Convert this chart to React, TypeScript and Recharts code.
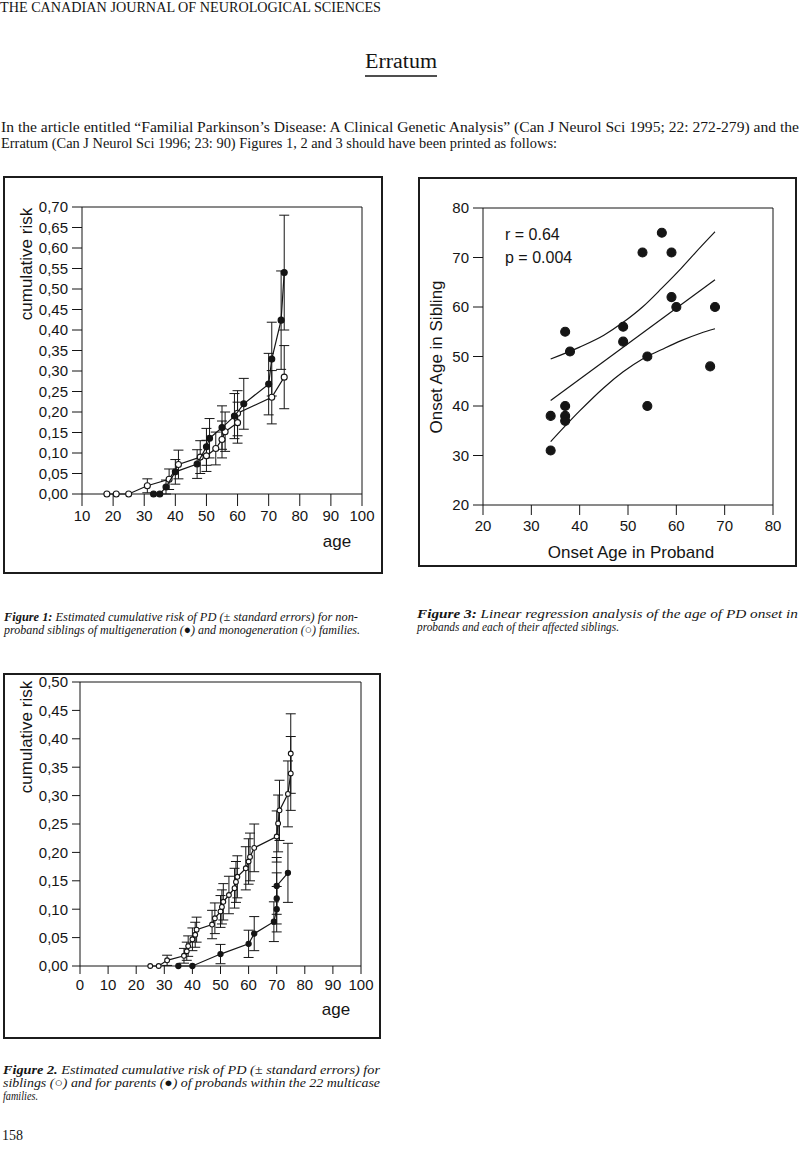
import React from "react";
import {
  ScatterChart,
  ComposedChart,
  Scatter,
  Line,
  XAxis,
  YAxis,
  ErrorBar,
  ReferenceLine,
  Customized,
} from "recharts";

// ---- Figure 1: multigeneration (filled) vs monogeneration (open) ----
const fig1AgeTicks = [10, 20, 30, 40, 50, 60, 70, 80, 90, 100];
const fig1RiskTicks = [0, 0.05, 0.1, 0.15, 0.2, 0.25, 0.3, 0.35, 0.4, 0.45, 0.5, 0.55, 0.6, 0.65, 0.7];

const multiAge = [33, 35, 37, 40, 47, 50, 51, 55, 59, 62, 70, 71, 74, 75];
const multiRisk = [0, 0, 0.017, 0.054, 0.073, 0.115, 0.136, 0.162, 0.19, 0.22, 0.268, 0.329, 0.424, 0.54];
const multiSE = [null, null, 0.017, 0.03, 0.035, 0.045, 0.048, 0.053, 0.055, 0.062, 0.075, 0.09, 0.12, 0.14];

const monoAge = [18, 21, 25, 31, 38, 41, 48, 50, 53, 55, 56, 60, 60, 71, 75];
const monoRisk = [0, 0, 0, 0.02, 0.036, 0.072, 0.09, 0.093, 0.111, 0.133, 0.152, 0.174, 0.197, 0.236, 0.285];
const monoSE = [null, null, null, 0.017, 0.025, 0.035, 0.04, 0.038, 0.04, 0.045, 0.048, 0.05, 0.055, 0.065, 0.077];

// ---- Figure 2: siblings (open) vs parents (filled) ----
const fig2AgeTicks = [0, 10, 20, 30, 40, 50, 60, 70, 80, 90, 100];
const fig2RiskTicks = [0, 0.05, 0.1, 0.15, 0.2, 0.25, 0.3, 0.35, 0.4, 0.45, 0.5];

const sibAge = [25, 28, 31, 37, 38, 38.5, 40, 41, 41.5, 47, 48, 50, 50.5, 51, 53, 55, 55.5, 56, 59, 60, 60.5, 62, 70, 70.5, 71, 74, 75, 75];
const sibRisk = [0, 0, 0.01, 0.018, 0.026, 0.035, 0.047, 0.055, 0.064, 0.073, 0.084, 0.096, 0.104, 0.113, 0.125, 0.137, 0.148, 0.157, 0.172, 0.184, 0.192, 0.208, 0.228, 0.251, 0.274, 0.303, 0.339, 0.374];
const sibSE = [null, null, 0.009, 0.013, 0.016, 0.018, 0.02, 0.022, 0.022, 0.025, 0.027, 0.028, 0.03, 0.032, 0.033, 0.035, 0.036, 0.037, 0.038, 0.04, 0.042, 0.042, 0.045, 0.05, 0.053, 0.058, 0.065, 0.07];

const parAge = [35, 40, 50, 60, 62, 69, 70, 70, 70, 74];
const parRisk = [0, 0, 0.021, 0.039, 0.057, 0.078, 0.1, 0.119, 0.141, 0.164];
const parSE = [null, null, 0.017, 0.024, 0.03, 0.035, 0.04, 0.045, 0.05, 0.052];

// ---- Figure 3: onset age proband vs sibling ----
const fig3Ticks = [20, 30, 40, 50, 60, 70, 80];
const probandAge = [34, 34, 37, 37, 37, 37, 38, 49, 49, 53, 54, 54, 57, 59, 59, 60, 67, 68];
const siblingAge = [38, 31, 40, 38, 37, 55, 51, 56, 53, 71, 50, 40, 75, 71, 62, 60, 48, 60];
const fitX = [34, 68];
const fitY = [41.1, 65.5];
const bandX = [34, 40, 45, 49, 53, 57, 61, 65, 68];
const upperY = [49.5, 51.9, 54.3, 56.9, 60.0, 63.8, 67.8, 72.1, 75.2];
const lowerY = [32.8, 39.0, 43.7, 46.9, 49.5, 51.4, 53.2, 54.7, 55.6];

const INK = "#151515";
const sans = "'Liberation Sans', Arial, sans-serif";
const serif = "'Liberation Serif', 'Times New Roman', serif";
const tickStyle = { fill: INK, fontSize: 15, fontFamily: sans };
const comma = (v: number) => v.toFixed(2).replace(".", ",");

const zip = (xs: number[], ys: number[], es?: (number | null)[]) =>
  xs.map((x, i) => ({ x, y: ys[i], se: es ? es[i] : null }));

const multiData = zip(multiAge, multiRisk, multiSE);
const monoData = zip(monoAge, monoRisk, monoSE);
const sibData = zip(sibAge, sibRisk, sibSE);
const parData = zip(parAge, parRisk, parSE);
const pointData = zip(probandAge, siblingAge);
const fitData = zip(fitX, fitY);
const upperData = zip(bandX, upperY);
const lowerData = zip(bandX, lowerY);

const dot = (r: number, filled: boolean) => (p: any) =>
  <circle cx={p.cx} cy={p.cy} r={r} fill={filled ? INK : "#fff"} stroke={INK} strokeWidth={1.1} />;

const frame = (left: number, top: number, width: number, height: number): React.CSSProperties => ({
  position: "absolute", left, top, width, height, border: "2px solid #1c1c1c", boxSizing: "border-box",
});

function Figure1() {
  return (
    <ScatterChart width={380} height={398} margin={{ top: 31, right: 21, bottom: 50, left: 0 }}>
      <XAxis type="number" dataKey="x" domain={[10, 100]} ticks={fig1AgeTicks} interval={0} height={30}
        tickSize={12} tickMargin={4} stroke={INK} tick={tickStyle} />
      <YAxis type="number" dataKey="y" domain={[0, 0.7]} ticks={fig1RiskTicks} interval={0} width={79}
        tickSize={10} tickMargin={4} tickFormatter={comma} stroke={INK} tick={tickStyle} />
      <ReferenceLine y={0.7} stroke={INK} />
      <ReferenceLine x={100} stroke={INK} />
      <Scatter data={monoData} line={{ stroke: INK, strokeWidth: 1.2 }} shape={dot(3, false)} isAnimationActive={false}>
        <ErrorBar dataKey="se" direction="y" width={5} stroke={INK} strokeWidth={1} />
      </Scatter>
      <Scatter data={multiData} line={{ stroke: INK, strokeWidth: 1.2 }} shape={dot(3, true)} isAnimationActive={false}>
        <ErrorBar dataKey="se" direction="y" width={5} stroke={INK} strokeWidth={1} />
      </Scatter>
      <Customized component={() => (
        <g fill={INK} fontFamily={sans}>
          <text x={334} y={371} fontSize={17} textAnchor="middle">age</text>
          <text x={23} y={88} fontSize={17} textAnchor="middle" dominantBaseline="central"
            transform="rotate(-90 23 88)">cumulative risk</text>
        </g>
      )} />
    </ScatterChart>
  );
}

function Figure2() {
  return (
    <ScatterChart width={378} height={366} margin={{ top: 9, right: 20, bottom: 43, left: 0 }}>
      <XAxis type="number" dataKey="x" domain={[0, 100]} ticks={fig2AgeTicks} interval={0} height={30}
        tickSize={8} tickMargin={5} stroke={INK} tick={tickStyle} />
      <YAxis type="number" dataKey="y" domain={[0, 0.5]} ticks={fig2RiskTicks} interval={0} width={77}
        tickSize={8} tickMargin={4} tickFormatter={comma} stroke={INK} tick={tickStyle} />
      <ReferenceLine y={0.5} stroke={INK} />
      <ReferenceLine x={100} stroke={INK} />
      <Scatter data={parData} line={{ stroke: INK, strokeWidth: 1.2 }} shape={dot(2.6, true)} isAnimationActive={false}>
        <ErrorBar dataKey="se" direction="y" width={5} stroke={INK} strokeWidth={1} />
      </Scatter>
      <Scatter data={sibData} line={{ stroke: INK, strokeWidth: 1.2 }} shape={dot(2.4, false)} isAnimationActive={false}>
        <ErrorBar dataKey="se" direction="y" width={5} stroke={INK} strokeWidth={1} />
      </Scatter>
      <Customized component={() => (
        <g fill={INK} fontFamily={sans}>
          <text x={333} y={342} fontSize={17} textAnchor="middle">age</text>
          <text x={23} y={64} fontSize={17} textAnchor="middle" dominantBaseline="central"
            transform="rotate(-90 23 64)">cumulative risk</text>
        </g>
      )} />
    </ScatterChart>
  );
}

function Figure3() {
  return (
    <ComposedChart width={379} height={390} margin={{ top: 31, right: 24, bottom: 32, left: 0 }}>
      <XAxis type="number" dataKey="x" domain={[20, 80]} ticks={fig3Ticks} interval={0} height={30}
        tickSize={10} tickMargin={5} stroke={INK} tick={tickStyle} />
      <YAxis type="number" dataKey="y" domain={[20, 80]} ticks={fig3Ticks} interval={0} width={65}
        tickSize={10} tickMargin={4} stroke={INK} tick={tickStyle} />
      <ReferenceLine y={80} stroke={INK} />
      <ReferenceLine x={80} stroke={INK} />
      <Line data={upperData} dataKey="y" type="monotone" stroke={INK} strokeWidth={1.2} dot={false} isAnimationActive={false} />
      <Line data={fitData} dataKey="y" type="linear" stroke={INK} strokeWidth={1.2} dot={false} isAnimationActive={false} />
      <Line data={lowerData} dataKey="y" type="monotone" stroke={INK} strokeWidth={1.2} dot={false} isAnimationActive={false} />
      <Scatter data={pointData} shape={dot(4.5, true)} isAnimationActive={false} />
      <Customized component={() => (
        <g fill={INK} fontFamily={sans}>
          <text x={87} y={63} fontSize={16}>r = 0.64</text>
          <text x={87} y={86} fontSize={16}>p = 0.004</text>
          <text x={213} y={381} fontSize={17} textAnchor="middle">Onset Age in Proband</text>
          <text x={18} y={180} fontSize={17} textAnchor="middle" dominantBaseline="central"
            transform="rotate(-90 18 180)">Onset Age in Sibling</text>
        </g>
      )} />
    </ComposedChart>
  );
}

function PageText() {
  const cap = { fontFamily: serif, fontSize: 13, fontStyle: "italic" as const, fill: INK };
  return (
    <svg width={800} height={1152} style={{ position: "absolute", left: 0, top: 0 }}>
      <g fontFamily={serif} fill={INK}>
        <text x={0} y={12} fontSize={14} textLength={381} lengthAdjust="spacingAndGlyphs">
          THE CANADIAN JOURNAL OF NEUROLOGICAL SCIENCES
        </text>
        <text x={365} y={68} fontSize={20} textLength={72} lengthAdjust="spacingAndGlyphs">Erratum</text>
        <line x1={365} x2={437} y1={76} y2={76} stroke={INK} strokeWidth={1.4} />
        <text x={1} y={132} fontSize={14} textLength={798} lengthAdjust="spacingAndGlyphs">
          In the article entitled “Familial Parkinson’s Disease: A Clinical Genetic Analysis” (Can J Neurol Sci 1995; 22: 272-279) and the
        </text>
        <text x={1} y={148} fontSize={14} textLength={556} lengthAdjust="spacingAndGlyphs">
          Erratum (Can J Neurol Sci 1996; 23: 90) Figures 1, 2 and 3 should have been printed as follows:
        </text>
        <text x={2} y={1140} fontSize={14}>158</text>
      </g>
      <g {...cap}>
        <text x={4} y={621} textLength={354} lengthAdjust="spacingAndGlyphs">
          <tspan fontWeight="bold">Figure 1:</tspan> Estimated cumulative risk of PD (± standard errors) for non-
        </text>
        <text x={4} y={634} textLength={356} lengthAdjust="spacingAndGlyphs">
          proband siblings of multigeneration (●) and monogeneration (○) families.
        </text>
        <text x={417} y={618} textLength={381} lengthAdjust="spacingAndGlyphs">
          <tspan fontWeight="bold">Figure 3:</tspan> Linear regression analysis of the age of PD onset in
        </text>
        <text x={417} y={631} textLength={202} lengthAdjust="spacingAndGlyphs">
          probands and each of their affected siblings.
        </text>
        <text x={3} y={1074} textLength={377} lengthAdjust="spacingAndGlyphs">
          <tspan fontWeight="bold">Figure 2.</tspan> Estimated cumulative risk of PD (± standard errors) for
        </text>
        <text x={3} y={1087} textLength={377} lengthAdjust="spacingAndGlyphs">
          siblings (○) and for parents (●) of probands within the 22 multicase
        </text>
        <text x={3} y={1100} textLength={35} lengthAdjust="spacingAndGlyphs">families.</text>
      </g>
    </svg>
  );
}

export default function App() {
  return (
    <div style={{ position: "absolute", left: 0, top: 0, width: 800, height: 1152, background: "#fff" }}>
      <PageText />
      <div style={frame(3, 176, 380, 398)} />
      <div style={{ position: "absolute", left: 3, top: 176 }}>
        <Figure1 />
      </div>
      <div style={frame(418, 177, 379, 390)} />
      <div style={{ position: "absolute", left: 418, top: 177 }}>
        <Figure3 />
      </div>
      <div style={frame(3, 673, 378, 366)} />
      <div style={{ position: "absolute", left: 3, top: 673 }}>
        <Figure2 />
      </div>
    </div>
  );
}
